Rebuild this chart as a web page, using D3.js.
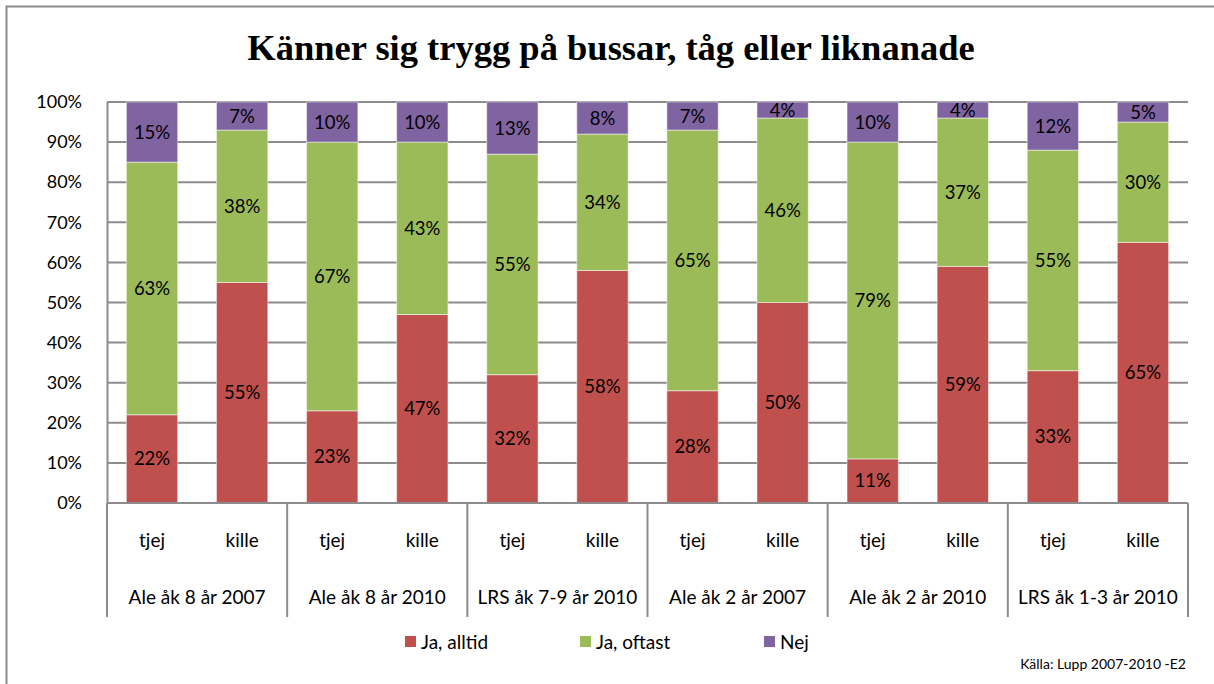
<!DOCTYPE html>
<html>
<head>
<meta charset="utf-8">
<script src="https://cdn.jsdelivr.net/npm/d3@7"></script>
<style>
  body { margin: 0; background: #fff; }
  text { font-family: Lato, "Open Sans", sans-serif; fill: #000; }
</style>
</head>
<body>
<svg id="my-svg" width="1214" height="684"></svg>
<script>
const groups = ["Ale åk 8 år 2007", "Ale åk 8 år 2010", "LRS åk 7-9 år 2010",
                "Ale åk 2 år 2007", "Ale åk 2 år 2010", "LRS åk 1-3 år 2010"];
const genders = ["tjej", "kille"];
const seriesNames = ["Ja, alltid", "Ja, oftast", "Nej"];
const colors = ["#C0504D", "#9BBB59", "#8064A2"];

// values per bar, in order group x gender
const jaAlltid = [22, 55, 23, 47, 32, 58, 28, 50, 11, 59, 33, 65];
const jaOftast = [63, 38, 67, 43, 55, 34, 65, 46, 79, 37, 55, 30];
const nej      = [15, 7, 10, 10, 13, 8, 7, 4, 10, 4, 12, 5];
const yTicks = [0, 10, 20, 30, 40, 50, 60, 70, 80, 90, 100];

const svg = d3.select("#my-svg"),
      margin = {top: 102, right: 26, bottom: 181, left: 107},
      svgWidth = 1214, svgHeight = 684,
      InnerWidth = svgWidth - margin.left - margin.right,
      InnerHeight = svgHeight - margin.top - margin.bottom;

// outer frame
svg.append("rect")
    .attr("x", 6.5).attr("y", 6.5)
    .attr("width", 1260).attr("height", 720)
    .attr("fill", "none").attr("stroke", "#8c8c8c").attr("stroke-width", 2);

svg.append("text")
    .attr("x", 611).attr("y", 60)
    .attr("text-anchor", "middle")
    .style("font-family", "'Liberation Serif', 'DejaVu Serif', serif")
    .style("font-weight", "bold")
    .style("font-size", "36.5px")
    .text("Känner sig trygg på bussar, tåg eller liknanade");

const bars = [];
groups.forEach((g, gi) => genders.forEach((s, si) => {
    const i = gi * 2 + si;
    bars.push({key: g + "|" + s, group: g, gender: s,
               "Ja, alltid": jaAlltid[i], "Ja, oftast": jaOftast[i], "Nej": nej[i]});
}));

const xScale = d3.scaleBand()
    .domain(bars.map(d => d.key))
    .range([0, InnerWidth])
    .paddingInner(0.43)
    .paddingOuter(0.215);

const groupScale = d3.scaleBand()
    .domain(groups)
    .range([0, InnerWidth]);

const yScale = d3.scaleLinear()
    .domain([0, 100])
    .range([InnerHeight, 0]);

const g = svg.append("g").attr("transform", `translate(${margin.left}, ${margin.top})`);

// gridlines
g.append("g")
    .selectAll("line")
    .data(yTicks)
    .join("line")
    .attr("x1", 0).attr("x2", InnerWidth)
    .attr("y1", d => yScale(d)).attr("y2", d => yScale(d))
    .attr("stroke", "#8c8c8c").attr("stroke-width", 2);

// y axis
const yAxis = g.append("g")
    .call(d3.axisLeft(yScale).tickValues(yTicks).tickFormat(d => d + "%").tickSize(0).tickPadding(25));
yAxis.select(".domain").attr("stroke", "#8c8c8c").attr("stroke-width", 2);
yAxis.selectAll("text").style("font-size", "18px").style("font-family", "Lato, sans-serif");

// stacked bars
const stacked = d3.stack().keys(seriesNames)(bars);
const layers = g.selectAll("g.layer")
    .data(stacked)
    .join("g")
    .attr("class", "layer")
    .attr("fill", (d, i) => colors[i]);

layers.selectAll("rect")
    .data(d => d)
    .join("rect")
    .attr("x", d => xScale(d.data.key))
    .attr("y", d => yScale(d[1]))
    .attr("width", xScale.bandwidth())
    .attr("height", d => yScale(d[0]) - yScale(d[1]))
    .attr("stroke", "#fff")
    .attr("stroke-opacity", 0.5)
    .attr("stroke-width", 1);

layers.each(function(layer) {
    d3.select(this).selectAll("text")
        .data(layer)
        .join("text")
        .attr("x", d => xScale(d.data.key) + xScale.bandwidth() / 2)
        .attr("y", d => (yScale(d[0]) + yScale(d[1])) / 2)
        .attr("dy", "0.35em")
        .attr("text-anchor", "middle")
        .style("font-size", "18.5px")
        .text(d => (d[1] - d[0]) + "%");
});

// category axis box
const axisG = g.append("g").attr("transform", `translate(0, ${InnerHeight})`);
axisG.append("line")
    .attr("x1", 0).attr("x2", InnerWidth)
    .attr("y1", 0).attr("y2", 0)
    .attr("stroke", "#8c8c8c").attr("stroke-width", 2);
axisG.selectAll("line.div")
    .data(groups.concat(["end"]))
    .join("line")
    .attr("class", "div")
    .attr("x1", (d, i) => i * groupScale.bandwidth())
    .attr("x2", (d, i) => i * groupScale.bandwidth())
    .attr("y1", 0).attr("y2", 114)
    .attr("stroke", "#8c8c8c").attr("stroke-width", 2);

axisG.selectAll("text.gender")
    .data(bars)
    .join("text")
    .attr("class", "gender")
    .attr("x", d => xScale(d.key) + xScale.bandwidth() / 2)
    .attr("y", 37)
    .attr("dy", "0.35em")
    .attr("text-anchor", "middle")
    .style("font-size", "19px")
    .text(d => d.gender);

axisG.selectAll("text.group")
    .data(groups)
    .join("text")
    .attr("class", "group")
    .attr("x", d => groupScale(d) + groupScale.bandwidth() / 2)
    .attr("y", 94)
    .attr("dy", "0.35em")
    .attr("text-anchor", "middle")
    .style("font-size", "19px")
    .text(d => d);

// legend
const legendX = [405, 580, 764];
const legend = svg.append("g")
    .selectAll("g")
    .data(seriesNames)
    .join("g")
    .attr("transform", (d, i) => `translate(${legendX[i]}, 642)`);
legend.append("rect")
    .attr("x", 0).attr("y", -6)
    .attr("width", 11).attr("height", 11)
    .attr("fill", (d, i) => colors[i]);
legend.append("text")
    .attr("x", 16).attr("y", 0)
    .attr("dy", "0.35em")
    .style("font-size", "19px")
    .text(d => d);

svg.append("text")
    .attr("x", 1186).attr("y", 664)
    .attr("dy", "0.35em")
    .attr("text-anchor", "end")
    .style("font-size", "14px")
    .text("Källa: Lupp 2007-2010 -E2");
</script>
</body>
</html>
